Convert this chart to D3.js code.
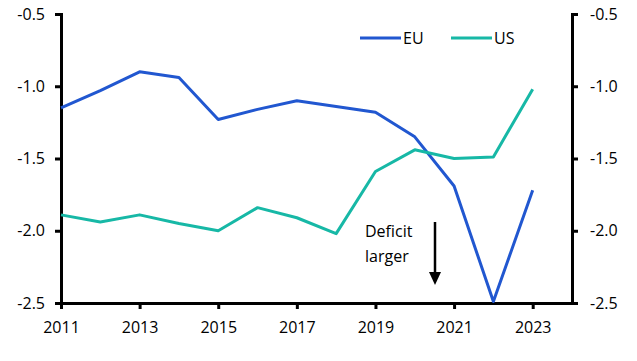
<!DOCTYPE html>
<html>
<head>
<meta charset="utf-8">
<script src="https://cdn.jsdelivr.net/npm/d3@7"></script>
<style>
  body { margin: 0; background: #fff; }
  text { font-family: "Open Sans", "Noto Sans", sans-serif; }
</style>
</head>
<body>
<div id="viz"></div>
<script>
var years = [2011, 2012, 2013, 2014, 2015, 2016, 2017, 2018, 2019, 2020, 2021, 2022, 2023];
var eu = [-1.15, -1.03, -0.90, -0.94, -1.23, -1.16, -1.10, -1.14, -1.18, -1.35, -1.69, -2.49, -1.72];
var us = [-1.89, -1.94, -1.89, -1.95, -2.00, -1.84, -1.91, -2.02, -1.59, -1.44, -1.50, -1.49, -1.02];
var yTicks = [-2.5, -2.0, -1.5, -1.0, -0.5];
var xTicks = [2011, 2013, 2015, 2017, 2019, 2021, 2023];

var W = 637, H = 361;
var mLeft = 61, mRight = 572, mTop = 14, mBottom = 303;

var svg = d3.select("#viz")
  .append("svg")
  .attr("width", W)
  .attr("height", H);

var x = d3.scaleLinear().domain([2011, 2024]).range([mLeft, mRight]);
var y = d3.scaleLinear().domain([-2.5, -0.5]).range([mBottom, mTop]);

// plain hyphen instead of the unicode minus
var fmtY = function(d) { return d.toFixed(1); };

function styleAxis(g) {
  g.selectAll("path").attr("stroke", "#000").attr("stroke-width", 3);
  g.selectAll("line").attr("stroke", "#000").attr("stroke-width", 3);
  g.selectAll("text").attr("font-size", 16).attr("fill", "#000");
}

svg.append("g")
  .attr("transform", "translate(" + mLeft + ",0)")
  .call(d3.axisLeft(y).tickValues(yTicks).tickFormat(fmtY).tickSize(6).tickSizeOuter(6).tickPadding(10))
  .call(styleAxis);

svg.append("g")
  .attr("transform", "translate(" + mRight + ",0)")
  .call(d3.axisRight(y).tickValues(yTicks).tickFormat(fmtY).tickSize(6).tickSizeOuter(6).tickPadding(12))
  .call(styleAxis);

svg.append("g")
  .attr("transform", "translate(0," + mBottom + ")")
  .call(d3.axisBottom(x).tickValues(xTicks).tickFormat(d3.format("d")).tickSize(6).tickSizeOuter(0).tickPadding(13))
  .call(styleAxis);

var line = d3.line()
  .x(function(d, i) { return x(years[i]); })
  .y(function(d) { return y(d); });

var series = [
  { name: "EU", values: eu, color: "#2157d0" },
  { name: "US", values: us, color: "#17b8a6" }
];

series.forEach(function(s) {
  svg.append("path")
    .attr("d", line(s.values))
    .attr("fill", "none")
    .attr("stroke", s.color)
    .attr("stroke-width", 3)
    .attr("stroke-linejoin", "round");
});

// legend
var legend = svg.append("g").attr("transform", "translate(360,38)");
series.forEach(function(s, i) {
  var g = legend.append("g").attr("transform", "translate(" + (i * 91) + ",0)");
  g.append("line").attr("x1", 0).attr("x2", 41).attr("stroke", s.color).attr("stroke-width", 3);
  g.append("text").attr("x", 43).attr("y", 6).attr("font-size", 16).text(s.name);
});

// annotation
var note = svg.append("text").attr("font-size", 16).attr("fill", "#000");
note.append("tspan").attr("x", 365).attr("y", 237).text("Deficit");
note.append("tspan").attr("x", 365).attr("y", 262).text("larger");

svg.append("line")
  .attr("x1", 435).attr("x2", 435)
  .attr("y1", 222).attr("y2", 275)
  .attr("stroke", "#000").attr("stroke-width", 2.5);
svg.append("path")
  .attr("d", "M429,272 L441,272 L435,285 Z")
  .attr("fill", "#000");
</script>
</body>
</html>
